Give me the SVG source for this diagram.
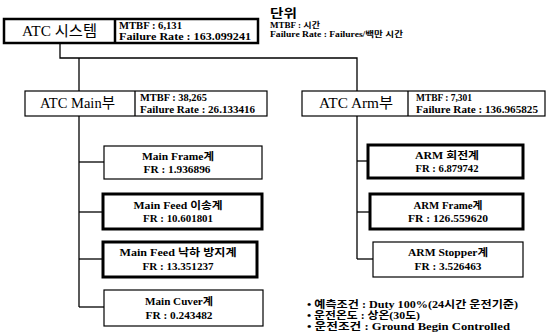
<svg xmlns="http://www.w3.org/2000/svg" width="547" height="336" viewBox="0 0 547 336">
<style>
.bg{fill:#fff}
.thin{fill:#fff;stroke:#000;stroke-width:1.2}
.thick{fill:#fff;stroke:#000;stroke-width:3}
.top{fill:#fff;stroke:#000;stroke-width:2.5}
.ln{fill:none;stroke:#000;stroke-width:1.3}
text{font-family:"Liberation Serif","Noto Sans CJK KR",serif;fill:#000}
.big{font-size:15px}
.sm{font-size:10.5px;font-weight:bold}
.ch{font-size:10.5px;font-weight:bold;text-anchor:middle}
.unit{font-size:8px;font-weight:bold}
.note{font-size:10.5px;font-weight:bold}
</style>
<rect class="bg" x="0" y="0" width="547" height="336"/>
<g id="connectors">
<polyline class="ln" points="60,43 60,58 357,58 357,91"/>
<line class="ln" x1="79" y1="58" x2="79" y2="91"/>
<line class="ln" x1="79" y1="116" x2="79" y2="307"/>
<line class="ln" x1="79" y1="162" x2="104" y2="162"/>
<line class="ln" x1="79" y1="212" x2="103" y2="212"/>
<line class="ln" x1="79" y1="259" x2="103" y2="259"/>
<line class="ln" x1="79" y1="307" x2="104" y2="307"/>
<line class="ln" x1="357" y1="116" x2="357" y2="259"/>
<line class="ln" x1="357" y1="161" x2="368" y2="161"/>
<line class="ln" x1="357" y1="212" x2="370" y2="212"/>
<line class="ln" x1="357" y1="259" x2="373" y2="259"/>
</g>
<g id="atc-system">
<rect class="top" x="4" y="19" width="254" height="24"/>
<line class="ln" x1="115" y1="19" x2="115" y2="43" style="stroke-width:2.5"/>
<text class="big" x="22" y="36" textLength="75" lengthAdjust="spacingAndGlyphs">ATC 시스템</text>
<text class="sm" x="119" y="29" textLength="63" lengthAdjust="spacingAndGlyphs">MTBF : 6,131</text>
<text class="sm" x="119" y="40" textLength="132" lengthAdjust="spacingAndGlyphs">Failure Rate : 163.099241</text>
</g>
<g id="unit">
<text x="270" y="18" textLength="27" lengthAdjust="spacingAndGlyphs" style="font-family:'Noto Sans CJK KR',sans-serif;font-size:12px;font-weight:bold">단위</text>
<text class="unit" x="270" y="28" textLength="50" lengthAdjust="spacingAndGlyphs">MTBF : 시간</text>
<text class="unit" x="270" y="37" textLength="133" lengthAdjust="spacingAndGlyphs">Failure Rate : Failures/백만 시간</text>
</g>
<g id="atc-main">
<rect class="thin" x="25" y="91" width="242" height="25"/>
<line class="ln" x1="135" y1="91" x2="135" y2="116"/>
<text class="big" x="40" y="108" textLength="75" lengthAdjust="spacingAndGlyphs">ATC Main부</text>
<text class="sm" x="140" y="101" textLength="67" lengthAdjust="spacingAndGlyphs">MTBF : 38,265</text>
<text class="sm" x="140" y="113" textLength="115" lengthAdjust="spacingAndGlyphs">Failure Rate : 26.133416</text>
</g>
<g id="atc-arm">
<rect class="thin" x="302" y="91" width="243" height="25"/>
<line class="ln" x1="408" y1="91" x2="408" y2="116"/>
<text class="big" x="319" y="108" textLength="74" lengthAdjust="spacingAndGlyphs">ATC Arm부</text>
<text class="sm" x="416" y="101" textLength="56" lengthAdjust="spacingAndGlyphs">MTBF : 7,301</text>
<text class="sm" x="416" y="113" textLength="122" lengthAdjust="spacingAndGlyphs">Failure Rate : 136.965825</text>
</g>
<g id="main-frame">
<rect class="thin" x="104" y="146" width="158" height="33"/>
<text class="ch" x="178" y="160" textLength="72" lengthAdjust="spacingAndGlyphs">Main Frame계</text>
<text class="ch" x="177" y="173" textLength="67" lengthAdjust="spacingAndGlyphs">FR : 1.936896</text>
</g>
<g id="main-feed-transfer">
<rect class="thick" x="103" y="194" width="159" height="35"/>
<text class="ch" x="178" y="209" textLength="89" lengthAdjust="spacingAndGlyphs">Main Feed 이송계</text>
<text class="ch" x="178" y="222" textLength="70" lengthAdjust="spacingAndGlyphs">FR : 10.601801</text>
</g>
<g id="main-feed-drop">
<rect class="thick" x="103" y="242" width="154" height="35"/>
<text class="ch" x="178" y="256" textLength="117" lengthAdjust="spacingAndGlyphs">Main Feed 낙하 방지계</text>
<text class="ch" x="178" y="270" textLength="71" lengthAdjust="spacingAndGlyphs">FR : 13.351237</text>
</g>
<g id="main-cuver">
<rect class="thin" x="104" y="290" width="159" height="36"/>
<text class="ch" x="179" y="305" textLength="68" lengthAdjust="spacingAndGlyphs">Main Cuver계</text>
<text class="ch" x="179" y="319" textLength="67" lengthAdjust="spacingAndGlyphs">FR : 0.243482</text>
</g>
<g id="arm-rotation">
<rect class="thick" x="368" y="145" width="155" height="33"/>
<text class="ch" x="447" y="159" textLength="64" lengthAdjust="spacingAndGlyphs">ARM 회전계</text>
<text class="ch" x="447" y="172" textLength="63" lengthAdjust="spacingAndGlyphs">FR : 6.879742</text>
</g>
<g id="arm-frame">
<rect class="thick" x="370" y="194" width="153" height="35"/>
<text class="ch" x="448" y="209" textLength="69" lengthAdjust="spacingAndGlyphs">ARM Frame계</text>
<text class="ch" x="448" y="222" textLength="80" lengthAdjust="spacingAndGlyphs">FR : 126.559620</text>
</g>
<g id="arm-stopper">
<rect class="thin" x="373" y="242" width="150" height="35"/>
<text class="ch" x="448" y="256" textLength="80" lengthAdjust="spacingAndGlyphs">ARM Stopper계</text>
<text class="ch" x="448" y="270" textLength="67" lengthAdjust="spacingAndGlyphs">FR : 3.526463</text>
</g>
<g id="notes">
<text class="note" x="307" y="308" textLength="211" lengthAdjust="spacingAndGlyphs">• 예측조건 : Duty 100%(24시간 운전기준)</text>
<text class="note" x="307" y="319" textLength="113" lengthAdjust="spacingAndGlyphs">• 운전온도 : 상온(30도)</text>
<text class="note" x="307" y="330" textLength="203" lengthAdjust="spacingAndGlyphs">• 운전조건 : Ground Begin Controlled</text>
</g>
</svg>
